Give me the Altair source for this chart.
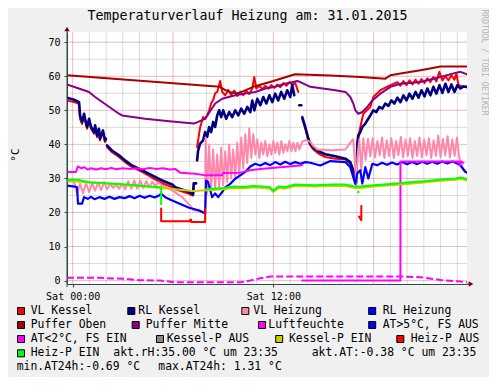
import altair as alt
import pandas as pd

# ---------------- texts / ticks ----------------
TITLE = "Temperaturverlauf Heizung am: 31.01.2015"
Y_TITLE = "°C"
WATERMARK = "RRDTOOL / TOBI OETIKER"
X_TICK_HOURS = [0, 12]
X_TICK_LABELS = ["Sat 00:00", "Sat 12:00"]
Y_TICKS = [0, 10, 20, 30, 40, 50, 60, 70]
X_MAJOR_GRID = [0, 6, 12, 18]
X_MINOR_GRID = [1, 2, 3, 4, 5, 7, 8, 9, 10, 11, 13, 14, 15, 16, 17, 19, 20, 21, 22, 23]
Y_MAJOR_GRID = [0, 10, 20, 30, 40, 50, 60, 70]
Y_MINOR_GRID = [5, 15, 25, 35, 45, 55, 65]
X_DOMAIN = [-0.34, 23.58]
Y_DOMAIN = [-1, 73]

LEGEND_LABELS = ["VL Kessel", "RL Kessel", "VL Heizung", "RL Heizung",
                 "Puffer Oben", "Puffer Mitte", "Luftfeuchte", "AT>5°C, FS AUS",
                 "AT<2°C, FS EIN", "Kessel-P AUS", "Kessel-P EIN", "Heiz-P AUS",
                 "Heiz-P EIN"]
LEGEND_COLORS = ["#ff0000", "#000080", "#ff88aa", "#0000ff",
                 "#aa0000", "#880088", "#ff00ff", "#0000ff",
                 "#ff00ff", "#888888", "#cccc00", "#ff0000",
                 "#00ff00"]
INFO_TEXTS = ["akt.rH:35.00 °C um 23:35", "akt.AT:-0.38 °C um 23:35",
              "min.AT24h:-0.69 °C", "max.AT24h: 1.31 °C"]

# ---------------- series (hour, value), split into segments ----------------
VL_KESSEL = [
    [(-0.34, 52.9), (0.14, 52.4), (0.38, 51.8), (0.44, 47.5), (0.56, 46.0), (0.68, 48.5), (0.74, 47.0),
     (0.86, 44.6), (0.98, 47.0), (1.10, 44.6), (1.28, 43.1), (1.34, 45.1), (1.46, 42.1), (1.57, 44.1),
     (1.63, 41.2), (1.81, 43.6), (1.93, 40.7), (1.99, 41.2)],
    [(2.05, 39.2), (2.35, 37.7), (2.77, 36.3), (3.13, 34.8), (3.55, 33.3), (4.15, 31.9), (4.75, 30.2),
     (5.35, 28.6), (5.95, 27.4), (6.13, 26.8), (6.96, 25.5), (7.14, 25.0), (7.20, 25.0), (7.24, 28.4),
     (7.34, 28.4)],
    [(7.44, 39.2), (7.50, 41.2), (7.62, 45.0), (7.80, 48.0), (7.92, 47.6), (8.04, 48.5), (8.16, 50.0),
     (8.28, 52.0), (8.40, 53.0), (8.52, 55.0), (8.64, 55.4), (8.76, 57.4), (8.82, 58.6), (8.94, 55.4),
     (9.12, 54.4), (9.30, 56.0), (9.48, 54.5), (9.66, 55.8), (9.84, 54.2), (10.02, 55.5), (10.20, 54.4),
     (10.38, 55.8), (10.56, 54.8), (10.74, 56.4), (10.86, 59.8), (10.98, 56.4), (11.16, 57.2),
     (11.34, 56.2), (11.52, 57.2), (11.70, 56.4), (11.88, 57.4), (12.06, 56.6), (12.24, 57.6),
     (12.42, 56.8), (12.60, 58.0), (12.78, 57.2), (12.96, 58.3), (13.14, 57.5), (13.31, 58.0),
     (13.49, 55.4)],
    [(13.73, 47.5), (13.91, 44.6), (14.09, 41.2), (14.21, 39.7), (14.39, 38.5), (14.69, 37.3),
     (15.11, 36.3), (15.71, 35.8), (16.31, 35.6), (16.60, 34.3), (16.78, 32.0), (16.90, 30.4),
     (16.96, 28.5), (17.02, 40.7), (17.20, 45.1), (17.38, 49.0), (17.80, 51.0), (17.98, 53.9),
     (18.40, 55.9), (19.00, 57.4), (19.42, 58.3), (19.60, 57.2), (19.78, 58.6), (19.96, 57.4),
     (20.14, 58.8), (20.32, 57.6), (20.50, 59.0), (20.68, 57.8), (20.86, 59.2), (21.04, 58.0),
     (21.21, 59.4), (21.39, 58.3), (21.57, 59.8), (21.75, 58.5), (21.93, 61.3), (22.11, 58.8),
     (22.29, 60.0), (22.47, 58.8), (22.65, 60.3), (22.83, 59.0), (22.95, 60.8), (23.07, 57.4),
     (23.37, 57.0), (23.58, 56.7)],
]

RL_KESSEL = [
    [(-0.34, 53.7), (0.08, 53.1), (0.38, 52.4), (0.44, 48.5), (0.56, 46.6), (0.68, 49.0), (0.74, 47.5),
     (0.86, 45.1), (0.98, 47.5), (1.10, 45.1), (1.28, 43.6), (1.34, 45.6), (1.46, 42.6), (1.57, 44.6),
     (1.63, 41.7), (1.81, 44.1), (1.93, 41.2), (1.99, 41.7)],
    [(2.05, 39.7), (2.35, 38.2), (2.77, 36.8), (3.13, 35.3), (3.55, 33.8), (4.15, 32.4), (4.75, 30.9),
     (5.35, 29.4), (5.95, 28.2), (6.13, 27.4), (6.96, 26.0), (7.14, 25.5), (7.20, 25.3), (7.24, 28.6),
     (7.38, 28.6)],
    [(7.44, 35.3), (7.50, 38.2), (7.62, 40.2), (7.80, 41.2), (7.92, 43.6), (8.04, 42.2), (8.16, 45.1),
     (8.28, 43.6), (8.40, 46.6), (8.52, 45.1), (8.64, 48.5), (8.76, 50.0), (8.88, 48.0), (9.00, 50.0),
     (9.18, 47.5), (9.36, 49.5), (9.54, 48.0), (9.72, 50.0), (9.90, 48.5), (10.08, 50.5), (10.26, 49.0),
     (10.44, 51.0), (10.62, 49.5), (10.74, 52.9), (10.86, 50.0), (11.04, 53.4), (11.22, 51.5),
     (11.40, 53.9), (11.58, 52.0), (11.76, 54.4), (11.94, 52.4), (12.11, 54.9), (12.29, 52.9),
     (12.47, 55.4), (12.65, 53.4), (12.83, 55.9), (13.01, 53.9), (13.13, 57.4), (13.25, 54.4)],
    [(13.55, 51.5), (13.67, 51.5)],
    [(13.73, 48.0), (13.91, 45.1), (14.09, 41.7), (14.21, 40.2), (14.39, 39.0), (14.69, 38.0),
     (15.11, 37.1), (15.71, 36.5), (16.31, 35.8), (16.60, 34.8), (16.78, 32.4), (16.90, 30.9),
     (16.96, 28.9), (17.02, 39.7), (17.08, 42.6), (17.20, 43.6), (17.32, 45.1), (17.50, 46.1),
     (17.62, 47.1), (17.80, 48.5), (17.98, 50.0), (18.16, 49.5), (18.34, 51.0), (18.52, 50.5),
     (18.70, 52.0), (18.88, 51.3), (19.06, 52.9), (19.24, 52.0), (19.42, 53.7), (19.60, 52.4),
     (19.78, 54.4), (19.96, 52.9), (20.14, 54.9), (20.32, 53.4), (20.50, 55.4), (20.68, 53.7),
     (20.86, 55.9), (21.04, 54.1), (21.21, 56.4), (21.39, 54.4), (21.57, 56.9), (21.75, 54.9),
     (21.93, 57.4), (22.11, 55.1), (22.29, 57.8), (22.47, 55.4), (22.65, 57.6), (22.83, 55.4),
     (23.01, 57.4), (23.19, 56.4), (23.37, 57.0), (23.58, 56.9)],
]

VL_HEIZUNG = [
    [(-0.34, 29.2), (0.08, 29.0), (0.26, 25.5), (0.44, 28.4), (0.62, 25.6), (0.80, 28.6), (0.98, 26.0),
     (1.16, 28.6), (1.34, 26.4), (1.52, 28.8), (1.70, 26.6), (1.88, 29.0), (2.06, 26.8), (2.24, 28.4),
     (2.42, 27.2), (2.60, 28.2), (2.78, 27.0), (2.96, 28.4), (3.14, 26.8), (3.32, 29.2), (3.50, 27.0),
     (3.68, 29.4), (3.86, 27.0), (4.04, 29.4), (4.22, 27.2), (4.40, 29.2), (4.58, 27.4), (4.76, 29.0),
     (4.94, 27.8), (5.12, 28.8), (5.35, 27.9), (5.95, 26.5), (6.55, 24.5), (7.02, 22.0), (7.20, 20.8),
     (7.50, 20.4), (7.80, 20.2), (7.92, 20.3), (7.95, 42.0), (8.04, 25.5), (8.16, 40.0), (8.28, 26.5),
     (8.40, 38.5), (8.52, 27.0), (8.64, 37.0), (8.76, 27.5), (8.88, 39.0), (9.00, 28.0), (9.12, 38.0),
     (9.24, 29.0), (9.36, 40.0), (9.48, 30.0), (9.60, 38.5), (9.72, 30.5), (9.84, 40.5), (9.96, 31.0),
     (10.08, 42.0), (10.20, 33.0), (10.32, 43.0), (10.44, 34.5), (10.56, 44.7), (10.68, 36.0),
     (10.80, 43.0), (10.92, 37.0), (11.04, 41.5), (11.16, 36.0), (11.28, 40.5), (11.40, 37.0),
     (11.52, 41.0), (11.64, 36.5), (11.76, 40.0), (11.88, 37.0), (12.00, 41.0), (12.12, 37.5),
     (12.24, 40.5), (12.36, 37.0), (12.48, 41.0), (12.60, 37.5), (12.72, 40.0), (12.84, 38.0),
     (12.96, 41.0), (13.08, 38.0), (13.20, 40.5), (13.32, 38.0), (13.44, 40.5), (13.56, 38.5),
     (13.73, 40.8), (13.91, 41.2), (14.21, 40.8), (14.39, 39.5), (14.63, 38.5), (15.50, 38.3),
     (16.31, 38.5), (16.60, 40.5), (16.78, 41.5), (16.90, 33.0), (16.96, 27.4), (17.02, 36.0),
     (17.14, 41.5), (17.26, 32.4), (17.38, 41.8), (17.52, 35.5), (17.66, 41.6), (17.80, 36.5),
     (17.94, 41.8), (18.08, 36.2), (18.22, 41.0), (18.36, 36.8), (18.50, 42.0), (18.64, 36.0),
     (18.78, 41.2), (18.92, 36.6), (19.06, 41.8), (19.20, 36.0), (19.34, 41.0), (19.48, 36.8),
     (19.62, 42.2), (19.76, 36.2), (19.90, 41.4), (20.04, 36.6), (20.18, 41.8), (20.32, 36.0),
     (20.46, 41.0), (20.60, 36.6), (20.74, 42.0), (20.88, 36.2), (21.02, 41.4), (21.16, 36.8),
     (21.30, 41.8), (21.44, 36.0), (21.58, 41.2), (21.72, 36.6), (21.86, 42.6), (22.00, 36.2),
     (22.14, 41.6), (22.28, 36.8), (22.42, 42.4), (22.56, 36.2), (22.70, 41.4), (22.84, 36.6),
     (22.98, 42.0), (23.12, 36.0), (23.19, 35.0), (23.37, 32.4), (23.58, 31.5)],
]

RL_HEIZUNG = [
    [(-0.34, 27.9), (0.14, 27.6), (0.26, 27.4), (0.32, 22.6), (0.56, 22.6), (0.68, 24.5), (0.90, 24.0),
     (1.10, 24.6), (1.30, 23.9), (1.60, 24.5), (1.90, 24.0), (2.20, 24.6), (2.50, 24.0), (2.80, 24.5),
     (3.10, 24.2), (3.40, 24.8), (3.70, 24.2), (4.00, 24.9), (4.30, 24.3), (4.60, 24.9), (4.90, 24.4),
     (5.17, 25.0), (5.29, 25.5), (5.53, 24.5), (5.95, 23.5), (6.96, 21.4), (7.57, 20.6), (7.92, 19.7),
     (7.98, 29.4), (8.10, 28.9), (8.34, 24.5), (8.52, 25.6), (8.70, 24.5), (8.94, 26.0), (9.12, 27.4),
     (9.42, 28.4), (9.72, 29.9), (10.02, 30.9), (10.32, 31.9), (10.62, 33.5), (10.92, 34.3),
     (11.22, 33.8), (11.52, 34.5), (11.82, 33.9), (12.11, 34.8), (12.41, 34.1), (12.71, 34.9),
     (13.01, 34.2), (13.31, 34.8), (13.61, 34.3), (13.91, 34.8), (14.21, 34.6), (14.81, 33.8),
     (15.41, 35.1), (16.31, 34.8), (16.60, 33.3), (16.90, 28.4), (17.02, 31.5), (17.20, 32.4),
     (17.32, 28.5), (17.50, 33.3), (17.68, 30.0), (17.92, 34.3), (18.20, 33.9), (18.50, 34.6),
     (18.80, 34.0), (19.10, 34.7), (19.40, 34.1), (19.70, 34.8), (20.00, 34.2), (20.30, 34.8),
     (20.60, 34.2), (20.90, 34.9), (21.20, 34.3), (21.50, 34.9), (21.80, 34.3), (22.10, 35.0),
     (22.40, 34.4), (22.70, 35.0), (23.00, 34.4), (23.19, 33.8), (23.49, 31.9), (23.58, 31.8)],
]

PUFFER_OBEN = [
    [(-0.34, 60.3), (8.80, 56.9), (9.10, 56.0), (9.50, 55.2), (9.90, 55.0), (10.80, 56.9), (12.00, 58.6),
     (13.10, 60.3), (13.30, 60.6), (15.40, 60.2), (17.20, 59.8), (18.70, 59.3), (19.00, 60.3),
     (19.60, 60.8), (20.80, 61.8), (22.00, 62.9), (23.58, 62.9)],
]

PUFFER_MITTE = [
    [(-0.34, 57.6), (0.98, 55.4), (1.34, 53.9), (2.77, 49.0), (2.95, 48.5), (4.33, 47.5), (5.77, 46.8),
     (7.26, 46.1), (7.92, 47.5), (8.52, 52.0), (8.94, 53.4), (9.72, 54.4), (10.32, 54.9), (10.92, 55.4),
     (11.52, 56.4), (12.11, 56.9), (12.71, 57.8), (13.43, 58.6), (13.61, 58.3), (14.21, 56.9),
     (15.71, 55.9), (16.31, 55.4), (16.60, 53.9), (16.78, 52.0), (16.90, 50.0), (17.08, 49.0),
     (17.32, 49.5), (17.62, 51.0), (17.92, 52.9), (18.40, 54.9), (19.00, 56.9), (19.60, 57.8),
     (20.80, 58.3), (21.99, 59.8), (22.89, 61.0), (23.19, 61.3), (23.58, 60.6)],
]

LUFTFEUCHTE = [
    [(-0.34, 31.9), (0.20, 31.9), (0.30, 33.5), (0.50, 33.0), (0.70, 33.3), (0.90, 32.6), (1.10, 33.0),
     (1.40, 32.6), (1.70, 33.0), (2.00, 32.7), (2.30, 33.1), (2.60, 32.7), (3.00, 33.0), (3.40, 32.8),
     (3.80, 33.0), (4.20, 32.7), (4.60, 33.1), (5.00, 32.8), (5.40, 33.0), (5.80, 32.6), (6.13, 32.8),
     (6.43, 31.7), (7.32, 31.4), (7.98, 30.9), (8.94, 30.9), (9.00, 31.6), (10.02, 31.7), (10.62, 32.4),
     (11.22, 32.8), (12.41, 33.3), (13.61, 33.8), (13.73, 34.0)],
    [(13.73, 0.0), (19.60, 0.0), (19.60, 35.0), (23.10, 35.0), (23.16, 33.8), (23.22, 35.0),
     (23.37, 34.6)],
]

AT_UNTER_2 = [
    [(-0.34, 0.8), (1.63, 0.8), (3.13, 0.5), (4.03, 0.1), (5.23, 0.0), (6.13, -0.5), (7.92, -0.5),
     (10.02, -0.5), (10.62, 0.0), (11.22, 0.7), (11.82, 1.2), (15.41, 1.2), (19.60, 1.2), (20.80, 1.0),
     (22.00, 0.2), (23.19, -0.3), (23.58, -0.5)],
]

KESSEL_P_EIN = [
    [(-0.34, 29.3), (1.00, 28.8), (2.50, 28.3), (4.00, 27.8), (5.29, 27.2), (6.00, 26.9), (7.00, 26.4),
     (7.30, 26.3), (7.98, 26.5), (8.40, 26.6), (9.00, 26.8), (9.60, 27.2), (10.20, 27.1), (10.80, 27.4),
     (11.40, 27.2), (11.80, 27.0), (12.00, 26.0), (12.30, 27.2), (12.70, 27.0), (13.30, 27.8),
     (14.50, 27.6), (15.50, 27.8), (16.30, 27.8), (16.90, 27.2), (17.20, 27.2), (18.00, 27.6),
     (19.00, 28.0), (20.00, 28.4), (21.00, 28.8), (22.00, 29.3), (22.90, 29.6), (23.20, 29.9),
     (23.58, 29.4)],
]

HEIZ_P_AUS = [
    [(5.29, 21.2), (5.29, 17.4), (7.00, 17.4), (7.03, 17.9), (7.08, 17.9), (7.10, 17.2), (7.92, 17.2),
     (7.92, 21.2)],
    [(17.26, 21.9), (17.26, 17.7), (17.12, 18.8)],
]

HEIZ_P_EIN = [
    [(-0.34, 29.6), (0.30, 29.6), (0.98, 28.9), (2.77, 28.4), (4.63, 27.6), (5.29, 27.4), (5.29, 22.4)],
    [(7.98, 26.9), (8.40, 27.0), (9.00, 27.2), (9.60, 27.6), (10.20, 27.5), (10.80, 27.8), (11.40, 27.6),
     (11.80, 27.4), (12.00, 26.4), (12.30, 27.6), (12.70, 27.4), (13.30, 28.2), (14.50, 28.0),
     (15.50, 28.2), (16.30, 28.2), (16.90, 27.6), (17.20, 27.6), (18.00, 28.0), (19.00, 28.4),
     (20.00, 28.8), (21.00, 29.2), (22.00, 29.7), (22.90, 30.0), (23.20, 30.3), (23.58, 29.8)],
    [(17.06, 26.0), (17.10, 26.0)],
]

# ---------------- layout (pixels, relative to plot origin) ----------------
MONO = "DejaVu Sans Mono"
AXIS_COLOR = "#2c4d43"
ARROW_COLOR = "#7f0000"
PLOT_W, PLOT_H = 400, 252
LEGEND_SWATCH_XY = [(-46, 279), (64.3, 279), (178.3, 279), (305.2, 279),
                    (-46, 293), (68.7, 293), (195, 293), (305.2, 293),
                    (-46, 307), (93, 307), (212.2, 307), (333.3, 307),
                    (-46, 321.3)]
LEGEND_TEXT_X = [-36.3, 71.3, 186.3, 315.7,
                 -36.3, 78.7, 201.3, 315.7,
                 -36.3, 99.7, 222.0, 343.7,
                 -36.3]
INFO_XY = [(46.3, 321.3), (244.7, 321.3), (-50.3, 334.7), (91.3, 334.7)]

XS = alt.Scale(domain=X_DOMAIN, nice=False, zero=False)
YS = alt.Scale(domain=Y_DOMAIN, nice=False, zero=False)


def frame(segments):
    rows = []
    for s, seg in enumerate(segments):
        for i, (t, v) in enumerate(seg):
            rows.append({"seg": s, "i": i, "t": t, "v": v})
    return pd.DataFrame(rows)


def line_layer(segments, color, width=2.0, dash=None):
    props = dict(color=color, strokeWidth=width, clip=True)
    if dash:
        props["strokeDash"] = dash
        props["strokeCap"] = "butt"
    else:
        props["strokeJoin"] = "round"
        props["strokeCap"] = "round"
    return alt.Chart(frame(segments)).mark_line(**props).encode(
        x=alt.X("t:Q", scale=XS, axis=None),
        y=alt.Y("v:Q", scale=YS, axis=None),
        detail="seg:N",
        order="i:Q",
    )


label_expr = "''"
for h, lab in reversed(list(zip(X_TICK_HOURS, X_TICK_LABELS))):
    label_expr = f"datum.value == {h} ? '{lab}' : {label_expr}"

grid_vminor = alt.Chart(pd.DataFrame({"h": X_MINOR_GRID})).mark_rule(
    color="#8c8c8c", opacity=0.3, strokeWidth=1).encode(x=alt.X("h:Q", scale=XS, axis=None))
grid_hminor = alt.Chart(pd.DataFrame({"g": Y_MINOR_GRID})).mark_rule(
    color="#8c8c8c", opacity=0.3, strokeWidth=1).encode(y=alt.Y("g:Q", scale=YS, axis=None))
grid_vmajor = alt.Chart(pd.DataFrame({"h": X_MAJOR_GRID})).mark_rule(
    color="#c83c3c", opacity=0.35, strokeWidth=1).encode(
    x=alt.X("h:Q", scale=XS, axis=alt.Axis(
        orient="bottom", values=X_TICK_HOURS, labelExpr=label_expr, title=None, grid=False,
        domainColor=AXIS_COLOR, tickColor=AXIS_COLOR, tickSize=3, labelFont=MONO,
        labelFontSize=10, labelColor="#000000", labelPadding=4, labelFlush=False,
        labelOverlap=False)))
grid_hmajor = alt.Chart(pd.DataFrame({"g": Y_MAJOR_GRID})).mark_rule(
    color="#c83c3c", opacity=0.35, strokeWidth=1).encode(
    y=alt.Y("g:Q", scale=YS, axis=alt.Axis(
        orient="left", values=Y_TICKS, format="d", title=None, grid=False,
        domainColor=AXIS_COLOR, tickColor=AXIS_COLOR, tickSize=3, labelFont=MONO,
        labelFontSize=10, labelColor="#000000", labelPadding=4, labelFlush=False,
        labelOverlap=False)))

one = pd.DataFrame({"k": [0]})
arrows = [
    alt.Chart(one).mark_rule(color=AXIS_COLOR, strokeWidth=1).encode(
        x=alt.value(PLOT_W), x2=alt.value(PLOT_W + 3), y=alt.value(PLOT_H)),
    alt.Chart(one).mark_rule(color=AXIS_COLOR, strokeWidth=1).encode(
        x=alt.value(0), y=alt.value(-2), y2=alt.value(PLOT_H + 3)),
    alt.Chart(one).mark_point(shape="triangle-up", filled=True, size=30, color=ARROW_COLOR,
                              opacity=1).encode(x=alt.value(0), y=alt.value(-3)),
    alt.Chart(one).mark_point(shape="triangle-right", filled=True, size=30, color=ARROW_COLOR,
                              opacity=1).encode(x=alt.value(PLOT_W + 4), y=alt.value(PLOT_H)),
]

title_layer = alt.Chart(pd.DataFrame({"txt": [TITLE]})).mark_text(
    font=MONO, fontSize=13.3, align="center", baseline="middle", color="#000000").encode(
    x=alt.value(180.5), y=alt.value(-16.3), text="txt:N")
ytitle_layer = alt.Chart(pd.DataFrame({"txt": [Y_TITLE]})).mark_text(
    font=MONO, fontSize=11, align="center", baseline="middle", angle=270, color="#000000").encode(
    x=alt.value(-51), y=alt.value(123), text="txt:N")
mark_layer = alt.Chart(pd.DataFrame({"txt": [WATERMARK]})).mark_text(
    font=MONO, fontSize=8, align="center", baseline="middle", angle=90, color="#b4b4b4").encode(
    x=alt.value(416.5), y=alt.value(30.5), text="txt:N")

legend_df = pd.DataFrame({
    "label": LEGEND_LABELS,
    "color": LEGEND_COLORS,
    "sx": [p[0] for p in LEGEND_SWATCH_XY],
    "sy": [p[1] for p in LEGEND_SWATCH_XY],
    "tx": LEGEND_TEXT_X,
})
swatches = alt.Chart(legend_df).mark_square(size=49, filled=True, stroke="#000000",
                                            strokeWidth=1, opacity=1).encode(
    x=alt.X("sx:Q", scale=None, axis=None), y=alt.Y("sy:Q", scale=None, axis=None),
    fill=alt.Fill("color:N", scale=None))
legend_text = alt.Chart(legend_df).mark_text(
    font=MONO, fontSize=11.4, align="left", baseline="middle", color="#000000").encode(
    x=alt.X("tx:Q", scale=None, axis=None), y=alt.Y("sy:Q", scale=None, axis=None), text="label:N")
info_df = pd.DataFrame({"txt": INFO_TEXTS,
                        "ix": [p[0] for p in INFO_XY], "iy": [p[1] for p in INFO_XY]})
info_text = alt.Chart(info_df).mark_text(
    font=MONO, fontSize=11.4, align="left", baseline="middle", color="#000000").encode(
    x=alt.X("ix:Q", scale=None, axis=None), y=alt.Y("iy:Q", scale=None, axis=None), text="txt:N")

series_layers = [
    line_layer(VL_KESSEL, LEGEND_COLORS[0], 2.0),
    line_layer(RL_KESSEL, LEGEND_COLORS[1], 2.6),
    line_layer(VL_HEIZUNG, LEGEND_COLORS[2], 2.0),
    line_layer(RL_HEIZUNG, LEGEND_COLORS[3], 2.2),
    line_layer(PUFFER_OBEN, LEGEND_COLORS[4], 2.0),
    line_layer(PUFFER_MITTE, LEGEND_COLORS[5], 2.0),
    line_layer(LUFTFEUCHTE, LEGEND_COLORS[6], 2.0),
    line_layer(AT_UNTER_2, LEGEND_COLORS[8], 2.0, dash=[7, 3]),
    line_layer(KESSEL_P_EIN, LEGEND_COLORS[10], 2.0),
    line_layer(HEIZ_P_AUS, LEGEND_COLORS[11], 2.0),
    line_layer(HEIZ_P_EIN, LEGEND_COLORS[12], 2.0),
]

chart = alt.layer(
    grid_vminor, grid_hminor, grid_vmajor, grid_hmajor,
    *series_layers,
    *arrows,
    title_layer, ytitle_layer, mark_layer, swatches, legend_text, info_text,
).resolve_scale(x="independent", y="independent").properties(
    width=PLOT_W, height=PLOT_H,
    autosize=alt.AutoSizeParams(type="none"),
    padding={"left": 59, "top": 24, "right": 22, "bottom": 93},
    background="#f0f0f0",
).configure_view(fill="#ffffff", stroke=None)

chart.save("out.html", embed_options={"renderer": "svg", "actions": False})
